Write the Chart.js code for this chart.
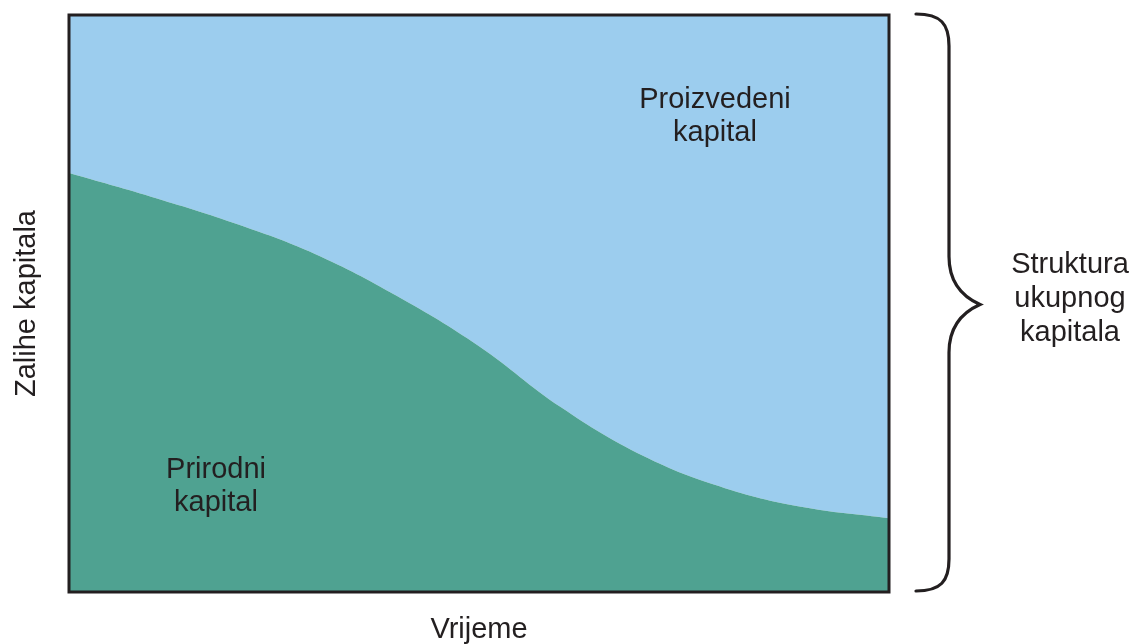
<!DOCTYPE html>
<html>
<head>
<meta charset="utf-8">
<script src="https://cdn.jsdelivr.net/npm/chart.js@4.4.0/dist/chart.umd.min.js"></script>
<style>
  html, body { margin: 0; padding: 0; background: #fff; }
  canvas { display: block; }
</style>
</head>
<body>
<canvas id="chart" width="1135" height="644"></canvas>
<script>
// time (0..100) and share of natural capital in total capital stock (0..100)
const time = [0, 10, 20, 30, 40, 50, 60, 70, 80, 90, 100];
const naturalCapital = [72.6, 68.5, 64.0, 58.6, 51.3, 42.6, 32.0, 23.6, 18.0, 14.6, 12.8];
const totalCapital = [100, 100, 100, 100, 100, 100, 100, 100, 100, 100, 100];

const xLabel = 'Vrijeme';
const yLabel = 'Zalihe kapitala';
const producedLabel = ['Proizvedeni', 'kapital'];
const naturalLabel = ['Prirodni', 'kapital'];
const braceLabel = ['Struktura', 'ukupnog', 'kapitala'];

const FONT = '29px "Liberation Sans", Arial, sans-serif';
const INK = '#231f20';

const annotations = {
  id: 'annotations',
  afterDatasetsDraw(chart) {
    const {ctx, chartArea: a} = chart;
    ctx.save();
    // frame
    ctx.strokeStyle = INK;
    ctx.lineWidth = 3;
    ctx.strokeRect(a.left, a.top, a.right - a.left, a.bottom - a.top);

    ctx.fillStyle = INK;
    ctx.font = FONT;
    ctx.textAlign = 'center';
    ctx.textBaseline = 'alphabetic';
    producedLabel.forEach((t, i) => ctx.fillText(t, a.left + 646, 108 + i * 33));
    naturalLabel.forEach((t, i) => ctx.fillText(t, a.left + 147, 478 + i * 33));
    ctx.fillText(xLabel, (a.left + a.right) / 2, a.bottom + 46);
    braceLabel.forEach((t, i) => ctx.fillText(t, a.right + 181, 273 + i * 34));

    ctx.save();
    ctx.translate(35, (a.top + a.bottom) / 2);
    ctx.rotate(-Math.PI / 2);
    ctx.fillText(yLabel, 0, 0);
    ctx.restore();

    // curly brace
    const x0 = a.right + 27, x1 = a.right + 60, xt = a.right + 91;
    const top = a.top - 1, bot = a.bottom - 1, mid = (top + bot) / 2 + 2;
    ctx.strokeStyle = INK;
    ctx.lineWidth = 3.2;
    ctx.lineCap = 'round';
    ctx.beginPath();
    ctx.moveTo(x0, top);
    ctx.bezierCurveTo(x1 - 8, top, x1, top + 10, x1, top + 32);
    ctx.lineTo(x1, mid - 48);
    ctx.bezierCurveTo(x1, mid - 22, xt - 18, mid - 8, xt, mid);
    ctx.bezierCurveTo(xt - 18, mid + 8, x1, mid + 22, x1, mid + 48);
    ctx.lineTo(x1, bot - 32);
    ctx.bezierCurveTo(x1, bot - 10, x1 - 8, bot, x0, bot);
    ctx.stroke();
    ctx.restore();
  }
};

new Chart(document.getElementById('chart'), {
  type: 'line',
  data: {
    datasets: [
      {
        label: 'Prirodni kapital',
        data: time.map((t, i) => ({x: t, y: naturalCapital[i]})),
        backgroundColor: '#4fa291',
        borderWidth: 0,
        pointRadius: 0,
        fill: 'origin',
        tension: 0.4
      },
      {
        label: 'Proizvedeni kapital',
        data: time.map((t, i) => ({x: t, y: totalCapital[i]})),
        backgroundColor: '#9ccdee',
        borderWidth: 0,
        pointRadius: 0,
        fill: '-1'
      }
    ]
  },
  options: {
    responsive: false,
    animation: false,
    layout: {padding: {left: 69, top: 15, right: 246, bottom: 52}},
    plugins: {legend: {display: false}, tooltip: {enabled: false}},
    scales: {
      x: {type: 'linear', min: 0, max: 100, display: false},
      y: {min: 0, max: 100, display: false}
    }
  },
  plugins: [annotations]
});
</script>
</body>
</html>
